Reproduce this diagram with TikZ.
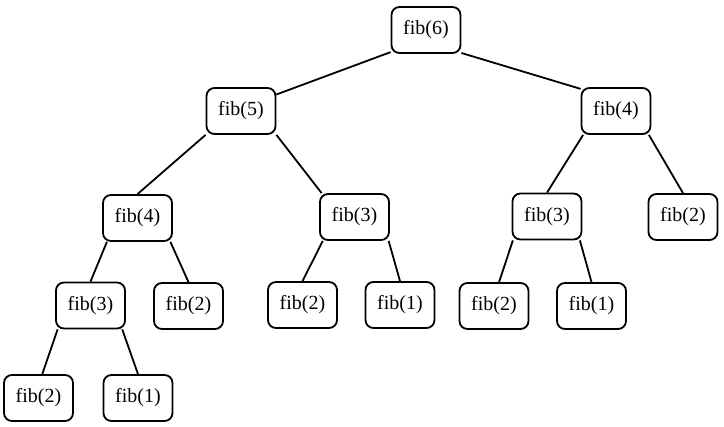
\documentclass[tikz,border=0pt]{standalone}
\usepackage{fontspec}
\setmainfont{Liberation Serif}

\begin{document}
\begin{tikzpicture}[line width = 0.9pt,
  call/.style = {draw = black, rounded corners = 4pt, minimum width = 34.5pt,
                 minimum height = 23pt, inner sep = 0pt, font = \fontsize{10}{12}\selectfont}]
\useasboundingbox (0pt, 0pt) rectangle (362pt, -213.5pt);

\node [call] (fib6) at (213pt, -15pt) {fib(6)};

\node [call] (fib5) at (120.5pt, -55.5pt) {fib(5)};
\node [call] (fib4r) at (308pt, -55.5pt) {fib(4)};
\path [draw] (fib6.-148) -- (fib5.25);
\path [draw] (fib6.-33) -- (fib4r.148);

\node [call] (fib4l) at (68.75pt, -109pt) {fib(4)};
\node [call] (fib3m) at (177.25pt, -108.5pt) {fib(3)};
\path [draw] (fib5.-146) -- (fib4l.north);
\path [draw] (fib5.-34) -- (fib3m.144);

\node [call] (fib3r) at (273.5pt, -108.25pt) {fib(3)};
\node [call] (fib2r) at (341.5pt, -108.5pt) {fib(2)};
\path [draw] (fib4r.-144) -- (fib3r.north);
\path [draw] (fib4r.-36) -- (fib2r.north);

\node [call] (fib3l) at (45.25pt, -152.75pt) {fib(3)};
\node [call] (fib2a) at (94.25pt, -153pt) {fib(2)};
\path [draw] (fib4l.-142) -- (fib3l.north);
\path [draw] (fib4l.-36) -- (fib2a.north);

\node [call] (fib2b) at (151.25pt, -152.5pt) {fib(2)};
\node [call] (fib1b) at (200pt, -152.5pt) {fib(1)};
\path [draw] (fib3m.-143) -- (fib2b.north);
\path [draw] (fib3m.-35) -- (fib1b.north);

\node [call] (fib2c) at (247pt, -153pt) {fib(2)};
\node [call] (fib1c) at (295.75pt, -153pt) {fib(1)};
\path [draw] (fib3r.-145) -- (fib2c.78);
\path [draw] (fib3r.-36) -- (fib1c.north);

\node [call] (fib2d) at (19.25pt, -199pt) {fib(2)};
\node [call] (fib1d) at (69pt, -199pt) {fib(1)};
\path [draw] (fib3l.-144) -- (fib2d.81);
\path [draw] (fib3l.-37) -- (fib1d.north);

\end{tikzpicture}
\end{document}
